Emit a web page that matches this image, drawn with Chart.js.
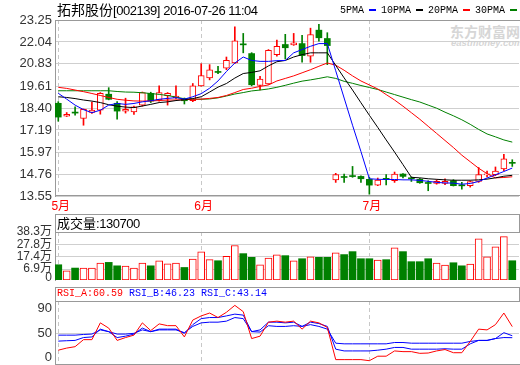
<!DOCTYPE html>
<html>
<head>
<meta charset="utf-8">
<script src="https://cdn.jsdelivr.net/npm/chart.js@4/dist/chart.umd.min.js"></script>
<style>
  body { margin: 0; background: #fff; }
  #wrap { position: relative; width: 520px; height: 365px; overflow: hidden; background: #fff; }
  #wrap canvas { position: absolute; left: 0; }
  .txt { position: absolute; white-space: nowrap; line-height: 1; }
  .narrow { font-family: 'Liberation Sans Narrow', 'Liberation Sans', 'Noto Sans CJK SC', sans-serif; font-size: 13px; color: #000; }
  .tight { letter-spacing: -0.45px; }
  .mono { font-family: 'Liberation Mono', 'DejaVu Sans Mono', monospace; font-size: 10px; color: #000; }
  .box { position: absolute; left: 55px; width: 465px; border: 1px solid #999; border-bottom: none; box-sizing: border-box; }
  .sw { display: inline-block; width: 7px; height: 2px; margin: 0 5px; vertical-align: middle; }
  .wm { position: absolute; white-space: nowrap; line-height: 1; }
</style>
</head>
<body>
<div id="wrap">
  <div class="wm" style="left:450px;top:21px;font:bold 14px 'Noto Sans CJK SC',sans-serif;color:#d6d6d6">东方财富网</div>
  <div class="wm" style="left:451px;top:37px;font:italic bold 9.5px 'Liberation Sans',sans-serif;color:#d6d6d6">eastmoney.com</div>

  <canvas id="kline" width="520" height="214" style="top:0"></canvas>
  <canvas id="vol" width="520" height="73" style="top:214px"></canvas>
  <canvas id="rsi" width="520" height="78" style="top:287px"></canvas>

  <div class="txt narrow" style="left:57px;top:3px"><span style="font-size:14px">拓邦股份</span><span class="tight">[002139] 2016-07-26 11:04</span></div>
  <div class="txt mono" style="left:340px;top:6px">5PMA<span class="sw" style="background:#0000ff"></span>10PMA<span class="sw" style="background:#000"></span>20PMA<span class="sw" style="background:#ff0000"></span>30PMA<span class="sw" style="background:#008000"></span></div>

  <div class="box" style="top:214px;height:18px"></div>
  <div class="txt narrow" style="left:57px;top:217px">成交量<span class="tight">:130700</span></div>

  <div class="box" style="top:287px;height:14px"></div>
  <div class="txt mono" style="left:57px;top:289px"><span style="color:#ff0000">RSI_A:60.59</span> <span style="color:#0000ff">RSI_B:46.23</span> <span style="color:#0000ff">RSI_C:43.14</span></div>
</div>

<script>
// trading days 2016-05-09 .. 2016-07-26
const monthTicks = [0, 17, 37]
const monthLabels = ['5月', '6月', '7月']
const priceTicks = [13.55, 14.76, 15.97, 17.19, 18.40, 19.61, 20.83, 22.04, 23.25]
const volTicks = [0, 6.9, 17.4, 27.8, 38.3]
const volLabels = ['0', '6.9万', '17.4万', '27.8万', '38.3万']
const rsiTicks = [0, 50, 90]

const open  = [18.66,17.95,18.15,17.82,18.16,18.28,19.16,18.66,18.23,18.19,18.56,19.21,18.84,19.08,18.95,18.92,18.80,19.62,20.06,20.40,20.60,20.88,21.90,21.40,19.64,19.73,21.34,21.90,21.88,21.95,21.25,22.69,22.23,14.43,14.58,14.66,14.63,14.47,14.15,14.50,14.39,14.76,14.52,14.47,14.27,14.24,14.25,14.39,14.13,14.12,14.35,14.71,14.73,15.04,15.38]
const high  = [18.75,18.15,18.47,18.35,18.72,19.25,19.52,18.75,18.94,18.50,19.28,19.27,19.62,19.25,19.62,18.95,19.75,20.84,20.79,20.69,21.21,22.88,22.51,21.45,20.14,21.62,22.14,22.46,22.51,22.40,22.80,23.01,22.55,14.80,14.76,15.18,14.66,14.58,14.54,14.73,14.87,14.78,14.60,14.52,14.39,14.45,14.49,14.45,14.30,14.38,15.12,14.92,15.15,15.84,15.55]
const low   = [17.67,17.93,18.01,17.45,18.10,18.06,18.85,17.78,18.12,18.04,18.50,18.70,18.78,18.56,18.90,18.62,18.75,19.60,19.95,20.29,20.51,20.84,21.44,19.62,19.40,19.70,21.25,21.10,21.85,20.92,20.92,22.08,20.79,14.30,14.30,14.58,14.30,13.65,14.12,14.16,14.30,14.54,14.35,14.25,13.84,14.20,14.18,14.10,13.93,14.04,14.30,14.60,14.67,14.95,15.18]
const close = [17.90,18.05,18.12,18.32,18.29,19.21,18.88,18.23,18.32,18.47,19.25,18.78,19.25,19.21,19.06,18.80,19.62,20.18,20.50,20.36,21.03,22.10,21.88,19.68,19.99,21.58,21.80,21.72,21.99,21.29,22.45,22.27,21.84,14.73,14.57,14.62,14.50,14.15,14.43,14.47,14.76,14.63,14.50,14.28,14.24,14.36,14.36,14.12,14.11,14.34,14.73,14.75,14.92,15.60,15.35]

const ma5  = [19.21,18.89,18.56,18.31,18.14,18.28,18.56,18.65,18.60,18.65,18.74,18.80,18.88,18.93,18.97,18.89,19.02,19.19,19.49,19.89,20.41,20.88,21.21,21.02,20.97,20.97,21.01,21.02,21.44,21.62,21.80,21.95,21.95,20.45,18.95,17.45,16.00,14.50,14.47,14.46,14.46,14.44,14.44,14.41,14.36,14.30,14.27,14.26,14.20,14.24,14.35,14.54,14.72,14.90,15.09]
const ma10 = [19.02,18.98,18.92,18.84,18.78,18.70,18.58,18.50,18.45,18.42,18.51,18.60,18.70,18.74,18.81,18.86,18.92,19.02,19.28,19.55,19.75,20.05,20.30,20.36,20.45,20.72,20.95,21.02,21.21,21.34,21.44,21.44,21.44,20.75,20.06,19.39,18.69,18.00,17.33,16.64,15.97,15.28,14.58,14.55,14.50,14.47,14.44,14.42,14.42,14.42,14.44,14.48,14.55,14.64,14.69]
const ma20 = [19.54,19.48,19.39,19.30,19.20,19.09,18.98,18.88,18.83,18.79,18.78,18.79,18.81,18.84,18.84,18.86,18.88,18.89,18.93,18.98,19.09,19.25,19.42,19.49,19.59,19.67,19.89,20.03,20.17,20.34,20.51,20.70,20.88,20.76,20.48,20.17,19.89,19.67,19.45,19.14,18.84,18.50,18.14,17.78,17.39,17.00,16.61,16.22,15.80,15.44,15.08,14.78,14.55,14.57,14.61]
const ma30 = [19.35,19.35,19.35,19.35,19.35,19.35,19.35,19.31,19.28,19.27,19.24,19.20,19.15,19.09,19.00,18.91,18.88,18.88,18.90,18.96,19.06,19.17,19.25,19.34,19.39,19.45,19.54,19.65,19.77,19.88,19.95,20.03,20.12,20.03,19.87,19.76,19.64,19.53,19.42,19.28,19.14,19.00,18.86,18.73,18.56,18.39,18.17,17.97,17.75,17.50,17.22,16.97,16.81,16.64,16.52]

// volume in 万
const volume = [10.6,5.4,7.8,7.8,7.8,12.0,12.6,9.7,9.5,7.8,12.0,9.7,14.0,11.4,12.0,8.3,15.5,21.5,14.9,14.0,17.7,26.9,20.0,16.9,10.6,16.3,18.9,18.3,14.0,15.7,17.2,16.9,16.9,20.6,19.2,21.7,15.7,15.7,14.6,14.9,24.9,21.7,13.2,13.2,15.7,12.0,10.3,12.3,9.7,11.2,32.6,17.2,25.8,34.4,14.0]

const rsiA = [23.4,26.7,28.9,40,40,66.5,58.2,38.8,43.3,47.1,66.5,54.3,64.9,62.1,62.1,44.3,70.9,77.5,82,74.9,83.2,94.1,84.2,41.7,45.5,67.6,69.2,67.6,69.2,56.6,69.2,66.5,59.3,8.5,8.5,8.5,8.5,6.8,13.9,13.9,22.2,21.1,21.1,18.4,18.9,22.2,24.4,19.4,19.4,37.2,56.6,55.4,63.7,82,60.6]
const rsiB = [37.7,38.3,38.8,43.3,44.3,56.6,52.6,43.3,45.5,48.8,58.3,52.6,56.6,56.6,56.6,50,63.7,73.2,74.9,74.9,77.5,80.3,78.7,52.6,55.4,67.6,67.6,66.5,67.6,60.9,67.6,65.4,60.9,25,22.2,22.2,22.2,22.2,23.4,25,27.7,27.7,25,25,25,25,25.6,25,25,33.4,38.8,38.8,41.7,51,46.2]
const rsiC = [47.1,47.1,47.1,48.2,48.8,55.4,52.6,48.8,48.8,50,55.4,52.6,55.4,55.4,55.4,51,60.9,66.5,67.6,67.6,69.2,74.9,73.2,52.6,52,62,60.9,60.9,62,60.9,63.7,60.9,56.6,34.4,33.4,33.4,33.4,33.4,33.4,33.4,35.5,35.5,34.4,34.4,34.4,34.4,34.4,34.4,34.4,37.2,38.8,38.8,41.7,43.3,43.1]

const RED = '#ff0000'
const GREEN = '#008000'
const FRAME = '#999999'
const LIGHT = '#cfcfcf'
const AXFONT = "'Liberation Sans', 'Noto Sans CJK SC', sans-serif"
const VOL_FLOOR = -2.3   // the volume axis starts a bit under zero, bars rise from the panel floor

const idx = close.map((c, i) => i)
const isUp = i => close[i] >= open[i]
const pts = arr => idx.map(i => ({x: i, y: arr[i]}))

// outline lines of the panels
const frame = {
  id: 'frame',
  afterDraw(chart, args, o) {
    const a = chart.chartArea, c = chart.ctx
    const t = Math.round(a.top) + 0.5, b = Math.round(a.bottom) - 0.5
    c.save()
    c.strokeStyle = FRAME
    c.lineWidth = 1
    c.beginPath()
    if (o.top) { c.moveTo(a.left, t); c.lineTo(a.right + 1, t) }
    if (o.bottom) { c.moveTo(a.left, b); c.lineTo(a.right + 1, b) }
    c.stroke()
    c.restore()
  }
}

function xAxis(showLabels, h) {
  return {
    type: 'linear', min: -0.39, max: 54.8, offset: false,
    afterBuildTicks: s => { s.ticks = monthTicks.map(v => ({value: v})) },
    afterFit: s => { s.height = h; s.paddingLeft = 0; s.paddingRight = 0 },
    ticks: {
      display: showLabels, autoSkip: false, maxRotation: 0, padding: 3, labelOffset: 2.5,
      color: RED, font: {family: AXFONT, size: 12},
      callback: (v, i) => monthLabels[i]
    },
    grid: {color: '#c8c8c8', offset: false, drawTicks: false},
    border: {display: false, dash: [4, 3]}
  }
}

function yAxis(min, max, tickVals, fmt, gridColor, size) {
  return {
    min: min, max: max,
    afterBuildTicks: s => { s.ticks = tickVals.map(v => ({value: v})) },
    // fixed width, and no extra room for the end labels
    afterFit: s => { s.width = 55; s.paddingTop = 0; s.paddingBottom = 0 },
    ticks: {color: '#333', padding: 3, autoSkip: false, font: {family: AXFONT, size: size}, callback: fmt},
    grid: {color: gridColor, drawTicks: false},
    border: {color: FRAME}
  }
}

const common = {
  responsive: false,
  animation: false,
  events: [],
  plugins: {legend: {display: false}, tooltip: {enabled: false}}
}

// price panel
new Chart(document.getElementById('kline'), {
  type: 'bar',
  plugins: [frame],
  data: {
    datasets: [
      {type: 'line', data: pts(ma5), borderColor: '#0000ff', borderWidth: 1, pointRadius: 0, order: 0},
      {type: 'line', data: pts(ma10), borderColor: '#000000', borderWidth: 1, pointRadius: 0, order: 0},
      {type: 'line', data: pts(ma20), borderColor: RED, borderWidth: 1, pointRadius: 0, order: 0},
      {type: 'line', data: pts(ma30), borderColor: GREEN, borderWidth: 1, pointRadius: 0, order: 0},
      {
        data: idx.map(i => ({x: i, y: [open[i], close[i]]})),
        backgroundColor: c => isUp(c.dataIndex) ? '#ffffff' : GREEN,
        borderColor: c => isUp(c.dataIndex) ? RED : GREEN,
        borderWidth: c => isUp(c.dataIndex) ? 1 : 0,
        borderSkipped: false, barThickness: 6, minBarLength: 1, grouped: false, order: 1
      },
      {
        data: idx.map(i => ({x: i, y: [low[i], high[i]]})),
        backgroundColor: c => isUp(c.dataIndex) ? RED : GREEN,
        borderWidth: 0, barThickness: 1, grouped: false, order: 2
      }
    ]
  },
  options: {
    ...common,
    layout: {padding: {top: 20, right: 1, left: 0, bottom: 0}},
    scales: {
      x: xAxis(true, 18),
      y: yAxis(13.55, 23.25, priceTicks, v => v.toFixed(2), LIGHT, 13)
    },
    plugins: {...common.plugins, frame: {top: true, bottom: true}}
  }
})

// volume panel
new Chart(document.getElementById('vol'), {
  type: 'bar',
  plugins: [frame],
  data: {
    datasets: [{
      data: pts(volume),
      base: VOL_FLOOR,
      backgroundColor: c => isUp(c.dataIndex) ? '#ffffff' : GREEN,
      borderColor: c => isUp(c.dataIndex) ? RED : GREEN,
      borderWidth: c => isUp(c.dataIndex) ? 1 : 0,
      borderSkipped: false, barThickness: 7, grouped: false
    }]
  },
  options: {
    ...common,
    layout: {padding: {top: 18, right: 1, left: 0, bottom: 7}},
    scales: {
      x: xAxis(false, 0),
      y: yAxis(VOL_FLOOR, 38.3, volTicks, (v, i) => volLabels[i],
        c => (c.index === 0 || c.index === volTicks.length - 1) ? 'rgba(0,0,0,0)' : LIGHT, 12)
    },
    plugins: {...common.plugins, frame: {top: true}}
  }
})

// RSI panel
new Chart(document.getElementById('rsi'), {
  type: 'line',
  plugins: [frame],
  data: {
    datasets: [
      {data: pts(rsiA), borderColor: RED, borderWidth: 1, pointRadius: 0},
      {data: pts(rsiB), borderColor: '#0000ff', borderWidth: 1, pointRadius: 0},
      {data: pts(rsiC), borderColor: '#0000ff', borderWidth: 1, pointRadius: 0}
    ]
  },
  options: {
    ...common,
    layout: {padding: {top: 14, right: 1, left: 0, bottom: 0}},
    scales: {
      x: xAxis(false, 0),
      y: yAxis(0, 101, rsiTicks, v => v === 0 ? ['0', ''] : String(v),
        c => c.tick.value === 50 ? LIGHT : 'rgba(0,0,0,0)', 13)
    },
    plugins: {...common.plugins, frame: {top: true, bottom: true}}
  }
})
</script>
</body>
</html>
